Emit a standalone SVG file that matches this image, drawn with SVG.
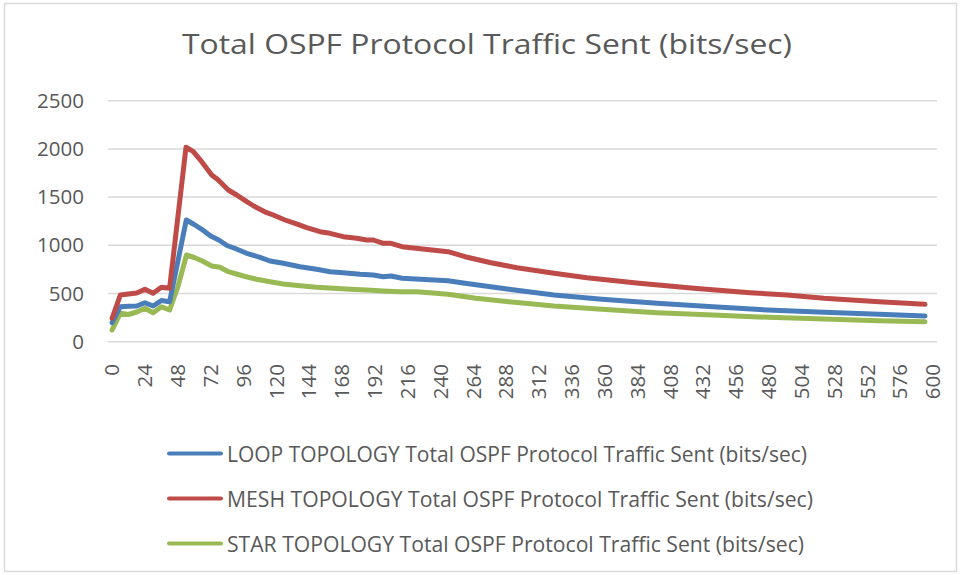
<svg xmlns="http://www.w3.org/2000/svg" width="960" height="575" viewBox="0 0 960 575">
  <style>
    .frame { fill: #ffffff; stroke: #d9d9d9; stroke-width: 1.5; }
    .grid { stroke: #d9d9d9; stroke-width: 1.5; fill: none; }
    .title { font-family: "Open Sans", "Liberation Sans", sans-serif; font-size: 28px; fill: #595959; }
    .ylab { font-family: "Open Sans", "Liberation Sans", sans-serif; font-size: 20.5px; fill: #595959; text-anchor: end; }
    .xlab { font-family: "Open Sans", "Liberation Sans", sans-serif; font-size: 20.5px; fill: #595959; text-anchor: end; }
    .leg { font-family: "Open Sans", "Liberation Sans", sans-serif; font-size: 22px; fill: #595959; }
    .series { fill: none; stroke-width: 5; stroke-linejoin: round; stroke-linecap: round; }
    .legline { fill: none; stroke-width: 4; stroke-linecap: round; }
    .loop { stroke: #4a7ebb; }
    .mesh { stroke: #be4b48; }
    .star { stroke: #98b954; }
  </style>

  <rect class="frame" x="4.5" y="3.5" width="952" height="568"/>

  <text class="title" x="182" y="54" textLength="610" lengthAdjust="spacingAndGlyphs">Total OSPF Protocol Traffic Sent (bits/sec)</text>

  <!-- value axis: gridlines and labels -->
  <g id="value-axis">
    <line class="grid" x1="108" y1="100.7" x2="937" y2="100.7"/>
    <line class="grid" x1="108" y1="148.9" x2="937" y2="148.9"/>
    <line class="grid" x1="108" y1="197.1" x2="937" y2="197.1"/>
    <line class="grid" x1="108" y1="245.3" x2="937" y2="245.3"/>
    <line class="grid" x1="108" y1="293.5" x2="937" y2="293.5"/>
    <line class="grid" x1="108" y1="341.7" x2="937" y2="341.7"/>
    <text class="ylab" x="84" y="107.7">2500</text>
    <text class="ylab" x="84" y="155.9">2000</text>
    <text class="ylab" x="84" y="204.1">1500</text>
    <text class="ylab" x="84" y="252.3">1000</text>
    <text class="ylab" x="84" y="300.5">500</text>
    <text class="ylab" x="84" y="348.7">0</text>
  </g>

  <!-- category axis labels (seconds) -->
  <g id="category-axis">
    <text class="xlab" transform="translate(119.4,364) rotate(-90)">0</text>
    <text class="xlab" transform="translate(152.2,364) rotate(-90)">24</text>
    <text class="xlab" transform="translate(185.1,364) rotate(-90)">48</text>
    <text class="xlab" transform="translate(217.9,364) rotate(-90)">72</text>
    <text class="xlab" transform="translate(250.7,364) rotate(-90)">96</text>
    <text class="xlab" transform="translate(283.6,364) rotate(-90)">120</text>
    <text class="xlab" transform="translate(316.4,364) rotate(-90)">144</text>
    <text class="xlab" transform="translate(349.2,364) rotate(-90)">168</text>
    <text class="xlab" transform="translate(382.1,364) rotate(-90)">192</text>
    <text class="xlab" transform="translate(414.9,364) rotate(-90)">216</text>
    <text class="xlab" transform="translate(447.7,364) rotate(-90)">240</text>
    <text class="xlab" transform="translate(480.6,364) rotate(-90)">264</text>
    <text class="xlab" transform="translate(513.4,364) rotate(-90)">288</text>
    <text class="xlab" transform="translate(546.2,364) rotate(-90)">312</text>
    <text class="xlab" transform="translate(579.1,364) rotate(-90)">336</text>
    <text class="xlab" transform="translate(611.9,364) rotate(-90)">360</text>
    <text class="xlab" transform="translate(644.7,364) rotate(-90)">384</text>
    <text class="xlab" transform="translate(677.6,364) rotate(-90)">408</text>
    <text class="xlab" transform="translate(710.4,364) rotate(-90)">432</text>
    <text class="xlab" transform="translate(743.2,364) rotate(-90)">456</text>
    <text class="xlab" transform="translate(776.1,364) rotate(-90)">480</text>
    <text class="xlab" transform="translate(808.9,364) rotate(-90)">504</text>
    <text class="xlab" transform="translate(841.7,364) rotate(-90)">528</text>
    <text class="xlab" transform="translate(874.6,364) rotate(-90)">552</text>
    <text class="xlab" transform="translate(907.4,364) rotate(-90)">576</text>
    <text class="xlab" transform="translate(940.2,364) rotate(-90)">600</text>
  </g>

  <!-- data series -->
  <g id="series">
    <polyline id="series-star" class="series star" points="112.1,330 120.3,313.3 128.5,314.5 136.7,312 144.9,308.3 153.1,312.7 161.4,306.7 169.6,310 177.8,287 186.5,255 194.2,257.5 202.4,261 211.7,266 220,267.3 228.3,271.7 243.3,276 256.7,279.3 270,281.7 283.3,284 300,285.7 316.7,287.3 333.3,288.3 350,289.3 366.7,290 383.3,291 400,291.7 417,291.7 448,294.3 476,298.3 509,301.7 554,306 602,309.3 657,312.7 713,315 768,317.3 824,319 879,320.7 925,321.7"/>
    <polyline id="series-loop" class="series loop" points="112.1,322.7 120.3,306.7 128.5,306.3 136.7,306 144.9,302.7 153.1,306 161.4,300.5 169.6,301.7 186.3,220 194.2,224.5 201.7,229.3 210.6,236 218.8,240 227,245.5 235.2,248.5 246.7,253.3 260,257.3 270,261 283.3,263.3 300,266.7 316.7,269.3 330,271.7 343.3,272.7 360,274.3 373.3,275 383.3,276.7 391,276 402,278.3 448,280.7 465,283.3 509,289.3 554,295 602,299.3 657,303.3 713,306.7 768,310 824,312.3 879,314.3 925,316"/>
    <polyline id="series-mesh" class="series mesh" points="112.1,318.3 120.3,295 128.5,294 136.7,293 144.9,289.3 153.1,293.3 161.4,287.3 169.6,288.3 186,147.2 193.3,151.7 201.7,161.7 211.7,175 218.3,180 228.3,190 236.7,195 246.7,201.7 255,206.7 266.7,212.7 273.3,215 285,220 295,223.3 306.7,227.7 320,231.7 330,233.3 343.3,236.7 356.7,238.3 366.7,240 373.3,240 383.3,243.3 391,243.3 402,246.7 448,251.7 465,256.7 491,262.7 517,267.7 554,273.3 587,277.7 639,283.3 694,288.3 750,292.7 787,295 824,298.3 879,301.7 925,304.3"/>
  </g>

  <!-- legend -->
  <g id="legend-loop">
    <line class="legline loop" x1="169" y1="453.5" x2="221" y2="453.5"/>
    <text class="leg" x="227" y="461.5" textLength="580" lengthAdjust="spacingAndGlyphs">LOOP TOPOLOGY Total OSPF Protocol Traffic Sent (bits/sec)</text>
  </g>
  <g id="legend-mesh">
    <line class="legline mesh" x1="169" y1="498.5" x2="221" y2="498.5"/>
    <text class="leg" x="227" y="506.5" textLength="586" lengthAdjust="spacingAndGlyphs">MESH TOPOLOGY Total OSPF Protocol Traffic Sent (bits/sec)</text>
  </g>
  <g id="legend-star">
    <line class="legline star" x1="169" y1="543.5" x2="221" y2="543.5"/>
    <text class="leg" x="227" y="551.5" textLength="577" lengthAdjust="spacingAndGlyphs">STAR TOPOLOGY Total OSPF Protocol Traffic Sent (bits/sec)</text>
  </g>
</svg>
